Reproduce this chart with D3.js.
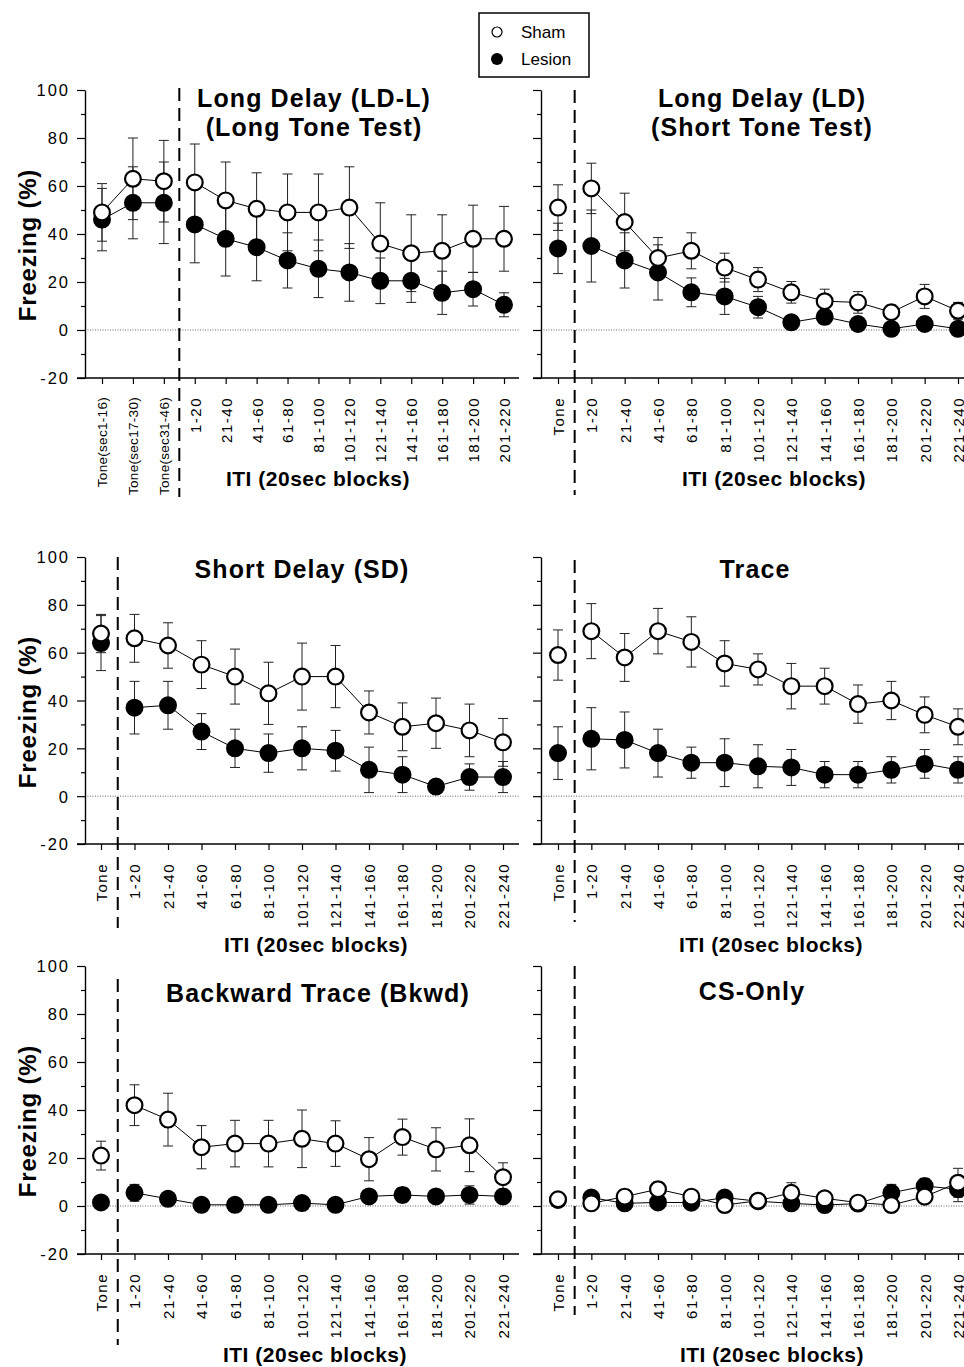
<!DOCTYPE html>
<html><head><meta charset="utf-8">
<script src="https://cdn.jsdelivr.net/npm/d3@7"></script>
<style>
body{margin:0;background:#fff;}
svg{display:block;font-family:"Liberation Sans",Arial,Helvetica,sans-serif;}
</style></head><body>
<svg id="chart" width="964" height="1367"></svg>
<script>
// ---------- categories / ticks ----------
const catLongTone = ["Tone(sec1-16)","Tone(sec17-30)","Tone(sec31-46)","1-20","21-40","41-60","61-80","81-100","101-120","121-140","141-160","161-180","181-200","201-220"];
const catITI = ["Tone","1-20","21-40","41-60","61-80","81-100","101-120","121-140","141-160","161-180","181-200","201-220","221-240"];
const yTickValues = [-20,-10,0,10,20,30,40,50,60,70,80,90,100];
const seriesNames = ["Sham","Lesion"];
const yAxisTitle = "Freezing (%)";
const xAxisTitle = "ITI (20sec blocks)";

// ---------- data (mean, SEM) ----------
const ldlSham      = [49, 63, 62, 61.5, 54, 50.5, 49, 49, 51, 36, 32, 33, 38, 38];
const ldlShamSem   = [12, 17, 17, 16, 16, 15, 16, 16, 17, 17, 16, 15, 14, 13.5];
const ldlLesion    = [46, 53, 53, 44, 38, 34.5, 29, 25.5, 24, 20.5, 20.5, 15.5, 17, 10.5];
const ldlLesionSem = [13, 15, 17, 16, 15.5, 14, 11.5, 12, 12, 9.5, 9, 9, 7, 5];

const ldSham      = [51, 59, 45, 30, 33, 26, 21, 15.7, 12, 11.5, 7.4, 14, 8];
const ldShamSem   = [9.5, 10.5, 12, 8.5, 7.5, 6, 5, 4.5, 5, 4.5, 3, 5, 3.5];
const ldLesion    = [34, 35, 29, 24, 15.7, 14, 9.5, 3.2, 5.5, 2.5, 0.5, 2.5, 0.5];
const ldLesionSem = [10.5, 15, 11.5, 11.5, 6, 7.5, 4.5, 2, 3, 1.5, 1, 1.5, 1];

const sdSham      = [68, 66, 63, 55, 50, 43, 50, 50, 35, 29, 30.5, 27.5, 22.5];
const sdShamSem   = [8, 10, 9.5, 10, 11.5, 13, 14, 13, 9, 10, 10.5, 11, 10];
const sdLesion    = [64, 37, 38, 27, 20, 18, 20, 19, 11, 9, 4, 8, 8];
const sdLesionSem = [11.5, 11, 10, 7.5, 8, 8, 9, 8.5, 9.5, 7.5, 1.5, 5.5, 6.5];

const trSham      = [59, 69, 58, 69, 64.5, 55.5, 53, 46, 46, 38.5, 40, 34, 29];
const trShamSem   = [10.5, 11.5, 10, 9.5, 10.5, 9.5, 6.5, 9.5, 7.5, 8, 8, 7.5, 7.5];
const trLesion    = [18, 24, 23.5, 18, 14, 14, 12.5, 12, 9, 9, 11, 13.5, 11];
const trLesionSem = [11, 13, 11.7, 10, 6.5, 10, 9, 7.5, 5.5, 5.5, 5.5, 6, 5.5];

const bkSham      = [21, 42, 36, 24.5, 26, 26, 28, 26, 19.5, 28.7, 23.6, 25.3, 12];
const bkShamSem   = [6, 8.5, 11, 9, 9.7, 9.7, 12, 9.5, 9, 7.5, 9, 11, 6];
const bkLesion    = [1.5, 5.5, 3, 0.5, 0.5, 0.5, 1.2, 0.5, 4, 4.6, 4, 4.6, 4];
const bkLesionSem = [1, 3.5, 1.5, 0.5, 0.5, 0.5, 1, 0.5, 2, 3, 2, 3.8, 3];

const csSham      = [2.8, 1.1, 3.9, 7, 3.9, 0.4, 2.2, 5.5, 3.2, 1.4, 0.4, 3.9, 9.7];
const csShamSem   = [1, 1, 3, 3, 1.5, 1, 1, 4.2, 1.5, 1, 1, 1.5, 6];
const csLesion    = [2.5, 3.5, 1.1, 1.5, 1.4, 3.5, 2, 1.1, 0.4, 1, 5.5, 8.3, 7];
const csLesionSem = [1, 1.8, 1, 1, 1, 1.5, 1, 1, 0.5, 1, 3.5, 3.2, 5.2];

// ---------- layout ----------
const rows = [{top:90,bottom:378},{top:557,bottom:844},{top:966,bottom:1254}];
const cols = [
  {axisX:85, x0:101, x1:503, end:519, labels:true},
  {axisX:541, x0:558, x1:958, end:966, labels:false}
];

const panels = [
  {row:0,col:0,title:["Long Delay (LD-L)","(Long Tone Test)"],titleX:314,titleY:[107,136],cats:catLongTone,tone:3,
   x0:102,x1:504,xTitleX:318,dash:[88,497],sham:ldlSham,shamSem:ldlShamSem,les:ldlLesion,lesSem:ldlLesionSem},
  {row:0,col:1,title:["Long Delay (LD)","(Short Tone Test)"],titleX:762,titleY:[107,136],cats:catITI,tone:1,
   xTitleX:774,dash:[90,495],sham:ldSham,shamSem:ldShamSem,les:ldLesion,lesSem:ldLesionSem},
  {row:1,col:0,title:["Short Delay (SD)"],titleX:302,titleY:[578],cats:catITI,tone:1,
   xTitleX:316,dash:[557,928],sham:sdSham,shamSem:sdShamSem,les:sdLesion,lesSem:sdLesionSem},
  {row:1,col:1,title:["Trace"],titleX:755,titleY:[578],cats:catITI,tone:1,
   xTitleX:771,dash:[560,922],sham:trSham,shamSem:trShamSem,les:trLesion,lesSem:trLesionSem},
  {row:2,col:0,title:["Backward Trace (Bkwd)"],titleX:318,titleY:[1002],cats:catITI,tone:1,
   xTitleX:315,dash:[979,1345],sham:bkSham,shamSem:bkShamSem,les:bkLesion,lesSem:bkLesionSem},
  {row:2,col:1,title:["CS-Only"],titleX:752,titleY:[1000],cats:catITI,tone:1,
   xTitleX:772,dash:[966,1315],sham:csSham,shamSem:csShamSem,les:csLesion,lesSem:csLesionSem}
];

const svg = d3.select("#chart");

panels.forEach(p => {
  const row = rows[p.row], col = cols[p.col];
  const g = svg.append("g");
  const y = d3.scaleLinear().domain([-20,100]).range([row.bottom,row.top]);
  const x = d3.scalePoint().domain(p.cats).range([p.x0 ?? col.x0, p.x1 ?? col.x1]);

  // zero reference line
  g.append("line").attr("x1",col.axisX).attr("x2",col.end)
    .attr("y1",y(0)).attr("y2",y(0))
    .attr("stroke","#666").attr("stroke-width",1).attr("stroke-dasharray","1,1.5");

  // y axis
  const yAx = d3.axisLeft(y).tickValues(yTickValues).tickSize(8).tickSizeOuter(0)
    .tickFormat(d => (col.labels && d % 20 === 0) ? d : "");
  const ga = g.append("g").attr("transform",`translate(${col.axisX},0)`).call(yAx)
    .attr("font-family",null).attr("font-size",null);
  ga.select(".domain").attr("stroke","#000").attr("stroke-width",1.4);
  ga.selectAll(".tick line").attr("x2", d => d % 20 === 0 ? -8 : -4).attr("stroke","#000").attr("stroke-width",1.2);
  ga.selectAll(".tick text").attr("x",-15).attr("dy","0.36em")
    .style("font-size","16.5px").style("letter-spacing","2px").attr("fill","#000");

  // x axis
  const xAx = d3.axisBottom(x).tickSize(6).tickSizeOuter(0);
  const gx = g.append("g").attr("transform",`translate(0,${row.bottom})`).call(xAx)
    .attr("font-family",null).attr("font-size",null);
  gx.select(".domain").remove();
  gx.append("line").attr("x1",col.axisX - 8).attr("x2",col.end).attr("y1",0).attr("y2",0)
    .attr("stroke","#000").attr("stroke-width",1.4);
  gx.selectAll(".tick line").attr("stroke","#000").attr("stroke-width",1.2);
  gx.selectAll(".tick text")
    .attr("transform","rotate(-90)").attr("x",-19).attr("y",0).attr("dy","0.36em")
    .style("text-anchor","end").attr("fill","#000")
    .style("font-size", d => d.startsWith("Tone(") ? "13.5px" : "15px")
    .style("letter-spacing", d => d.startsWith("Tone(") ? "0.3px" : "1.5px");

  // dashed separator
  const sepX = (x(p.cats[p.tone-1]) + x(p.cats[p.tone])) / 2;
  g.append("line").attr("x1",sepX).attr("x2",sepX).attr("y1",p.dash[0]).attr("y2",p.dash[1])
    .attr("stroke","#000").attr("stroke-width",2).attr("stroke-dasharray","13,7");

  const series = [
    {name:seriesNames[1], m:p.les, s:p.lesSem, fill:"#000"},
    {name:seriesNames[0], m:p.sham, s:p.shamSem, fill:"#fff"}
  ];
  const idx = d3.range(p.cats.length);
  const groups = [idx.slice(0,p.tone), idx.slice(p.tone)];
  const line = d3.line().x(i => x(p.cats[i]));

  // error bars
  series.forEach(sr => {
    const eb = g.append("g").attr("stroke","#222").attr("stroke-width",1);
    idx.forEach(i => {
      const cx = x(p.cats[i]);
      const lo = y(sr.m[i]-sr.s[i]), hi = y(sr.m[i]+sr.s[i]);
      eb.append("line").attr("x1",cx).attr("x2",cx).attr("y1",lo).attr("y2",hi);
      eb.append("line").attr("x1",cx-5).attr("x2",cx+5).attr("y1",lo).attr("y2",lo);
      eb.append("line").attr("x1",cx-5).attr("x2",cx+5).attr("y1",hi).attr("y2",hi);
    });
  });
  // connecting lines
  series.forEach(sr => {
    groups.forEach(gr => {
      if (gr.length < 2) return;
      g.append("path").attr("d", line.y(i => y(sr.m[i]))(gr))
        .attr("fill","none").attr("stroke","#000").attr("stroke-width",1);
    });
  });
  // markers
  series.forEach(sr => {
    g.append("g").selectAll("circle").data(idx).join("circle")
      .attr("cx", i => x(p.cats[i])).attr("cy", i => y(sr.m[i]))
      .attr("r",7.9).attr("fill",sr.fill).attr("stroke","#000").attr("stroke-width",2.2);
  });

  // titles
  p.title.forEach((t,k) => {
    g.append("text").attr("x",p.titleX).attr("y",p.titleY[k]).attr("text-anchor","middle")
      .style("font-size","25px").style("font-weight","bold").style("letter-spacing","1.1px").text(t);
  });
  // x axis title
  g.append("text").attr("x",p.xTitleX).attr("y",row.bottom + 108).attr("text-anchor","middle")
    .style("font-size","21px").style("font-weight","bold").style("letter-spacing","0.5px").text(xAxisTitle);
  // y axis title (left column only)
  if (col.labels) {
    g.append("text").attr("transform",`translate(27,${row.top + 155}) rotate(-90)`)
      .attr("text-anchor","middle").attr("dy","0.36em")
      .style("font-size","24px").style("font-weight","bold").style("letter-spacing","0.8px").text(yAxisTitle);
  }
});

// legend
const lg = svg.append("g");
lg.append("rect").attr("x",479).attr("y",13).attr("width",110).attr("height",64)
  .attr("fill","#fff").attr("stroke","#000").attr("stroke-width",1.5);
lg.append("circle").attr("cx",497).attr("cy",32).attr("r",5).attr("fill","#fff").attr("stroke","#000").attr("stroke-width",1.2);
lg.append("circle").attr("cx",497).attr("cy",59).attr("r",6).attr("fill","#000");
lg.append("text").attr("x",521).attr("y",38).style("font-size","17px").text(seriesNames[0]);
lg.append("text").attr("x",521).attr("y",65).style("font-size","17px").text(seriesNames[1]);
</script>
</body></html>
